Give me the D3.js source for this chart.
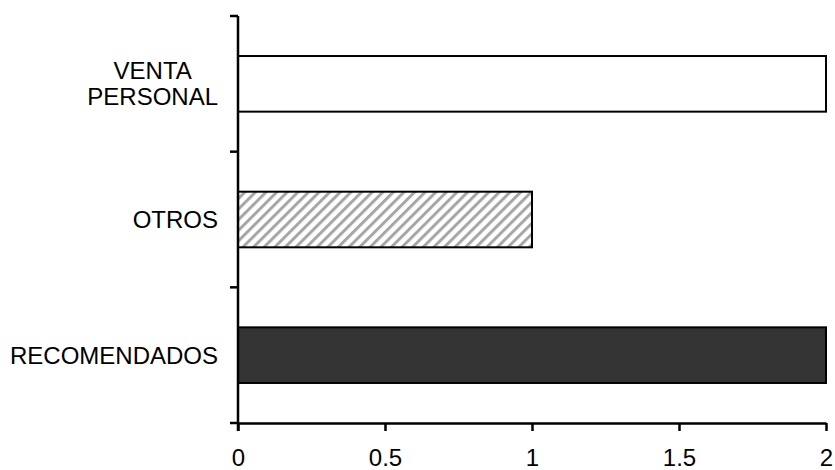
<!DOCTYPE html>
<html>
<head>
<meta charset="utf-8">
<script src="https://cdn.jsdelivr.net/npm/d3@7"></script>
<style>
  body { margin: 0; background: #fff; }
  text { font-family: "Liberation Sans", Arial, sans-serif; fill: #000; }
</style>
</head>
<body>
<div id="chart-area"></div>
<script>
// data
var categories = ["VENTA PERSONAL", "OTROS", "RECOMENDADOS"];
var values = [2, 1, 2];
var fills = ["#ffffff", "url(#hatch)", "#333333"];
var xTicks = [0, 0.5, 1, 1.5, 2];

var width = 835, height = 470;
var plotLeft = 238, plotRight = 826, plotTop = 16, plotBottom = 423;

var svg = d3.select("#chart-area")
  .append("svg")
  .attr("width", width)
  .attr("height", height);

// diagonal hatch for OTROS
var pat = svg.append("defs").append("pattern")
  .attr("id", "hatch")
  .attr("patternUnits", "userSpaceOnUse")
  .attr("width", 7.5)
  .attr("height", 7.5)
  .attr("patternTransform", "rotate(45)");
pat.append("rect").attr("width", 7.5).attr("height", 7.5).attr("fill", "#fff");
pat.append("rect").attr("width", 3).attr("height", 7.5).attr("fill", "#a6a6a6");

var x = d3.scaleLinear().domain([0, 2]).range([plotLeft, plotRight]);
var y = d3.scaleBand().domain(categories).range([plotTop, plotBottom])
  .paddingInner(0.59).paddingOuter(0.295);

var data = categories.map((c, i) => ({ cat: c, val: values[i], fill: fills[i] }));

svg.selectAll("rect.bar")
  .data(data)
  .enter()
  .append("rect")
    .attr("class", "bar")
    .attr("x", x(0))
    .attr("y", d => y(d.cat))
    .attr("width", d => x(d.val) - x(0))
    .attr("height", y.bandwidth())
    .attr("fill", d => d.fill)
    .attr("stroke", "#000")
    .attr("stroke-width", 2);

// x axis
var xAxis = svg.append("g")
  .attr("transform", "translate(0," + plotBottom + ")")
  .call(d3.axisBottom(x).tickValues(xTicks).tickSize(8).tickSizeOuter(0).tickPadding(18)
    .tickFormat(d3.format("")));
xAxis.select(".domain").attr("stroke-width", 2.5);
xAxis.selectAll(".tick line").attr("stroke-width", 2.5);
xAxis.selectAll("text").style("font-size", "24px").style("font-family", "Liberation Sans, Arial, sans-serif");

// y axis line with ticks at band boundaries
var yAxis = svg.append("g");
yAxis.append("line")
  .attr("x1", plotLeft).attr("x2", plotLeft)
  .attr("y1", plotTop).attr("y2", plotBottom + 8)
  .attr("stroke", "#000").attr("stroke-width", 2.5);
var bounds = categories.map(c => y(c) - y.step() * y.paddingInner() / 2);
bounds.push(plotBottom);
yAxis.selectAll("line.tk")
  .data(bounds)
  .enter()
  .append("line")
    .attr("class", "tk")
    .attr("x1", plotLeft - 8).attr("x2", plotLeft)
    .attr("y1", d => d).attr("y2", d => d)
    .attr("stroke", "#000").attr("stroke-width", 2.5);

// category labels, wrapped Excel-style
categories.forEach(c => {
  var words = c.split(" ");
  var lines = words.length > 1 ? words : [c];
  var cy = y(c) + y.bandwidth() / 2;
  var lh = 26;
  var g = svg.append("text")
    .attr("text-anchor", "middle")
    .style("font-size", "24px");
  lines.forEach((l, i) => {
    g.append("tspan")
      .attr("x", 0)
      .attr("y", cy + (i - (lines.length - 1) / 2) * lh)
      .attr("dy", "0.35em")
      .text(l);
  });
  var w = g.node().getBBox().width;
  g.attr("transform", "translate(" + (218 - w / 2) + ",0)");
});
</script>
</body>
</html>
